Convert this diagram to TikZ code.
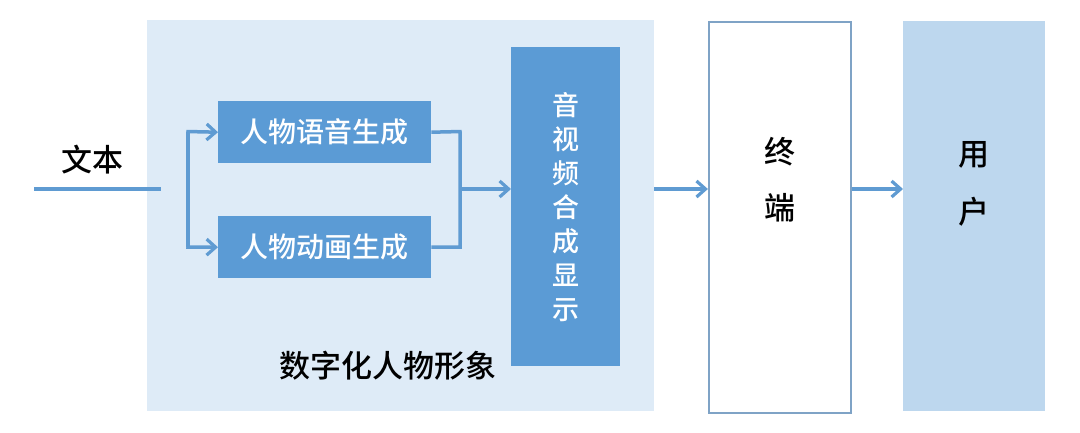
\documentclass[tikz,border=0pt]{standalone}
\usepackage{fontspec}
\newfontfamily\cjk{Noto Sans CJK SC}[UprightFont={* Medium}]
\usetikzlibrary{arrows.meta}
\definecolor{dblue}{HTML}{5B9BD5}
\definecolor{lbg}{HTML}{DEEBF7}
\definecolor{ublue}{HTML}{BDD7EE}
\definecolor{tborder}{HTML}{7FA3C6}
\definecolor{arr}{HTML}{5F9BD2}
\begin{document}
\begin{tikzpicture}[x=1pt,y=-1pt,
  conn/.style={draw=arr,line width=3.5pt},
  arrow/.style={conn,-{Straight Barb[length=9pt,width=16pt,line width=3.2pt]}},
  darkbox/.style={fill=dblue,draw=none,text=white,inner sep=0pt,anchor=north west},
  lbl/.style={font=\cjk\fontsize{#1}{#1}\selectfont,inner sep=0pt}]
\useasboundingbox (0,0) rectangle (1080,432);
\fill[white] (0,0) rectangle (1080,432);
% big background
\node[fill=lbg,draw=none,minimum width=507pt,minimum height=391pt,anchor=north west,inner sep=0pt] (bg) at (147,20) {};
% boxes
\node[darkbox,minimum width=213pt,minimum height=62pt] (voice) at (218,101) {};
\node[lbl=28,text=white] (voicet) at (voice.center) {人物语音生成};
\node[darkbox,minimum width=213pt,minimum height=62pt] (anim) at (218,216) {};
\node[lbl=28,text=white] (animt) at (anim.center) {人物动画生成};
\node[darkbox,minimum width=109pt,minimum height=319pt] (av) at (511,47) {};
\node[font=\cjk\fontsize{27}{34}\selectfont,text=white,align=center,inner sep=0pt] (avt) at (av.center) {音\\视\\频\\合\\成\\显\\示};
\node[draw=tborder,line width=1.8pt,fill=white,minimum width=142pt,minimum height=391pt,anchor=north west,inner sep=0pt] (term) at (707.9,20.9) {};
\node[font=\cjk\fontsize{31}{56}\selectfont,align=center,inner sep=0pt] (termt) at (780,180) {终\\端};
\node[fill=ublue,draw=none,minimum width=142pt,minimum height=390pt,anchor=north west,inner sep=0pt] (user) at (903,21) {};
\node[font=\cjk\fontsize{31}{58}\selectfont,align=center,inner sep=0pt] (usert) at (974,184) {用\\户};
% labels
\node[lbl=31] (txt) at (92,160) {文本};
\node[lbl=31] (dh) at (388,366) {数字化人物形象};
% connectors
\coordinate (ts) at (34,189);
\coordinate (te) at (161,189);
\draw[conn] (ts) -- (te);
\coordinate (sp) at (188,131.5);
\coordinate (sq) at (188,247);
\draw[conn] (sq) -- (sp);
\draw[arrow] ([xshift=-1.75pt]sp) -- (voice.west);
\draw[arrow] ([xshift=-1.75pt]sq) -- (anim.west);
\coordinate (mp) at (460,131.5);
\coordinate (mq) at (460,247);
\draw[conn] (voice.east) -- ([xshift=1.75pt]mp) (mp) -- (mq) ([xshift=1.75pt]mq) -- (anim.east);
\coordinate (mm) at (460,189);
\draw[arrow] (mm) -- (av.west |- mm);
\draw[arrow] (bg.east |- mm) -- (term.west |- mm);
\draw[arrow] (term.east |- mm) -- (user.west |- mm);
\end{tikzpicture}
\end{document}
